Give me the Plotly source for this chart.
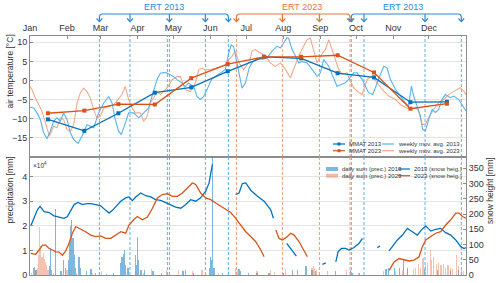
import plotly.graph_objects as go

# ---------------- data ----------------
months = ['Jan', 'Feb', 'Mar', 'Apr', 'May', 'Jun', 'Jul', 'Aug', 'Sep', 'Oct', 'Nov', 'Dec']
month_start_day = [0, 31, 59, 90, 120, 151, 181, 212, 243, 273, 304, 334]

mmat_day = [15, 45.5, 74, 104.5, 135, 165.5, 196, 227, 257.5, 288, 318.5, 349]
mmat_2013 = [-10.2, -13.2, -8.6, -3.2, -1.8, 2.4, 6.2, 5.8, 1.9, 0.8, -5.7, -5.6]
mmat_2023 = [-8.6, -7.9, -6.2, -6.3, 0.6, 4.3, 6.2, 6.2, 6.6, 2.1, -7.4, -6.1]

# weekly moving average air temperature (day of year, degC)
wma_2013 = [(0, -7.0), (3.1, -7.2), (5.9, -8.5), (8.7, -10.3), (11.4, -13.7), (14.2, -15.3), (17.0, -13.3),
            (19.8, -10.7), (22.6, -9.8), (25.4, -10.7), (28.2, -8.5), (31.0, -10.3), (33.8, -13.7), (36.6, -15.5),
            (40.2, -16.5), (43.5, -14.6), (47.7, -11.6), (53.3, -12.4), (57.5, -8.5), (61.7, -5.9), (65.9, -4.2),
            (68.7, -5.9), (71.4, -10.3), (74.2, -13.3), (76.5, -14.2), (79.8, -11.1), (82.6, -8.5), (86.8, -8.5),
            (91.0, -9.8), (95.2, -8.5), (99.3, -7.2), (102.1, -4.2), (104.4, -1.6), (106.3, 0.2), (109.1, 1.9),
            (113.3, 2.1), (117.5, 1.5), (120.3, 1.0), (123.1, 0.2), (127.2, -0.7), (130.0, -1.6), (132.8, -0.7),
            (137.0, -1.6), (139.8, -4.2), (142.6, -5.0), (145.4, -4.2), (148.2, -2.4), (151.8, 0.2), (155.1, 1.0),
            (159.3, 1.9), (163.5, 2.8), (166.3, 7.1), (168.5, 9.3), (170.5, 8.9), (173.3, 4.5), (177.5, -2.0),
            (180.3, -0.7), (183.5, 3.3), (185.9, 4.6), (190.1, 5.9), (194.3, 5.5), (198.4, 5.9), (202.6, 7.7),
            (206.8, 9.0), (209.6, 8.5), (212.4, 9.8), (215.2, 11.2), (216.6, 11.0), (219.4, 8.1), (222.2, 6.4),
            (225.0, 4.6), (227.7, 5.0), (231.9, 4.6), (236.1, 2.9), (240.3, 1.1), (243.1, 2.0), (245.9, 5.5),
            (250.1, 3.7), (254.3, 0.3), (257.0, -1.5), (261.2, -1.0), (264.0, -0.6), (266.8, 0.3), (271.0, 2.0),
            (273.8, 2.0), (278.0, 0.3), (280.8, -1.5), (283.5, -3.2), (286.9, -3.7), (289.7, -1.5), (292.5, 1.1),
            (296.1, 3.7), (298.9, 3.3), (301.7, 0.3), (305.9, -2.3), (310.1, -4.1), (314.2, -5.8), (317.0, -6.7),
            (319.3, -1.5), (321.2, -4.1), (324.0, -6.7), (326.8, -9.3), (328.7, -12.8), (331.0, -13.2),
            (333.8, -10.2), (336.6, -7.6), (339.3, -8.4), (342.1, -7.6), (344.9, -5.0), (347.7, -3.7),
            (351.9, -4.5), (354.7, -4.1), (358.9, -5.0), (363.1, -7.1), (365, -8.0)]

wma_2023 = [(0, -1.6), (1.7, -2.4), (4.5, -4.6), (7.3, -6.4), (10.1, -8.1), (12.9, -11.1), (16.2, -14.6),
            (19.8, -12.0), (22.6, -12.4), (25.4, -9.8), (28.2, -10.3), (31.0, -12.9), (33.8, -13.3), (36.6, -11.6),
            (39.4, -5.9), (42.1, -3.3), (44.9, -2.0), (47.7, -2.9), (50.5, -4.6), (53.3, -7.7), (56.1, -9.8),
            (58.9, -9.4), (61.7, -7.2), (65.9, -6.8), (70.0, -6.4), (73.7, -5.0), (77.0, -3.7), (79.8, -1.6),
            (82.6, -5.0), (85.4, -7.2), (88.2, -8.5), (92.4, -8.5), (95.2, -10.7), (98.0, -9.4), (100.7, -5.9),
            (103.5, -4.6), (106.3, -2.9), (109.1, -3.7), (111.9, -2.9), (115.5, -1.6), (118.9, 0.2), (123.1, 1.0),
            (125.9, 1.0), (127.8, -0.7), (130.0, -2.4), (134.2, -2.9), (138.4, -0.7), (141.2, 2.8), (144.0, 3.2),
            (146.8, 2.8), (151.0, 2.8), (155.1, 3.2), (159.3, 3.7), (163.5, 4.1), (166.3, 5.4), (169.1, 6.3),
            (171.9, 7.6), (175.2, 4.5), (178.9, 2.8), (181.7, 4.1), (184.0, 5.2), (185.9, 7.7), (188.7, 8.1),
            (192.9, 7.2), (197.1, 6.4), (201.2, 4.6), (205.4, 3.7), (209.6, 4.6), (213.8, 2.9), (218.0, 0.7),
            (220.8, 2.9), (225.0, 6.4), (229.1, 9.0), (231.9, 10.7), (234.7, 11.1), (237.5, 8.1), (240.3, 4.6),
            (243.1, 6.4), (247.3, 8.1), (250.1, 10.7), (252.9, 8.1), (255.6, 5.5), (258.4, 2.9), (261.2, 1.6),
            (265.4, 2.0), (268.2, -0.2), (271.0, -1.9), (273.8, -2.8), (278.0, -3.7), (282.2, 0.3), (286.3, 1.1),
            (290.5, -0.6), (294.7, -2.3), (300.3, -4.1), (305.9, -5.0), (310.1, -6.3), (314.2, -7.1),
            (318.4, -7.6), (322.6, -7.1), (325.4, -8.0), (328.2, -11.5), (331.0, -11.5), (333.8, -9.7),
            (338.0, -7.6), (342.1, -5.8), (346.3, -5.0), (350.5, -3.7), (355.1, -2.8), (360.3, -1.9),
            (363.1, -2.8), (365, -3.7)]

# snow height [mm] (None = data gap)
snow_2013 = [(0.6, 161), (3.4, 186), (6.2, 214), (8.4, 225), (11.8, 208), (16.0, 205), (20.1, 194), (24.3, 190),
             (28.5, 186), (31.3, 192), (34.1, 212), (36.9, 231), (40.2, 238), (43.9, 231), (47.5, 234), (50.8, 234),
             (55.0, 231), (59.2, 227), (63.4, 212), (66.2, 203), (69.0, 212), (71.8, 225), (76.0, 242), (80.1, 253),
             (82.9, 256), (85.7, 244), (88.5, 256), (92.7, 269), (96.9, 260), (101.1, 256), (105.2, 247),
             (109.4, 245), (113.6, 238), (117.8, 231), (122.0, 223), (126.2, 219), (130.4, 231), (134.5, 247),
             (138.7, 242), (142.9, 253), (147.1, 275), (149.9, 302), (152.7, 363), (160, None), (172.2, 264),
             (175.0, 269), (177.8, 300), (180.6, 302), (184.8, 278), (190.4, 258), (196.0, 242), (201.5, 214),
             (203.8, 186), (208, None), (214.9, 104), (218.3, 87), (223.0, 62), (230, None), (244.8, 35),
             (247.6, 40), (250, None), (256.0, 43), (257.9, 76), (260.7, 87), (264.3, 87), (267.1, 82),
             (271.3, 90), (275.5, 104), (278.3, 120), (285, None), (290.8, 90), (293.1, 95), (296, None),
             (300.6, 79), (303.4, 93), (307.6, 115), (311.8, 131), (315.9, 153), (320.1, 142), (324.3, 131),
             (327.7, 148), (331.3, 161), (335.5, 144), (339.7, 150), (343.8, 153), (348.0, 139), (352.2, 131),
             (356.4, 115), (360.6, 93), (363.4, 87), (365, 90)]

snow_2023 = [(0.6, 71), (4.8, 68), (7.6, 82), (10.4, 98), (13.2, 98), (16.0, 87), (18.7, 82), (21.5, 76),
             (24.3, 75), (27.1, 65), (29.9, 79), (32.7, 104), (35.5, 137), (38.3, 159), (42.5, 150), (46.6, 142),
             (50.8, 131), (55.0, 126), (59.2, 128), (63.4, 120), (67.6, 120), (71.8, 131), (76.0, 142), (80.1, 137),
             (82.9, 164), (87.1, 183), (89.9, 192), (94.1, 181), (98.3, 190), (102.5, 219), (106.6, 253),
             (110.8, 264), (115.0, 267), (119.2, 258), (123.4, 258), (127.6, 269), (131.7, 286), (135.9, 302),
             (138.7, 297), (142.9, 269), (147.1, 253), (151.3, 247), (155.5, 236), (159.7, 225), (163.8, 214),
             (168.0, 205), (172.2, 186), (176.4, 164), (180.6, 142), (184.8, 126), (189.0, 109), (193.2, 82),
             (196.0, 60), (200, None), (205.7, 148), (208.5, 120), (211.3, 115), (215.5, 126), (218.3, 137),
             (221.1, 131), (225.3, 109), (229.4, 82), (232.2, 60), (240, None), (300.6, 15), (304.8, 43),
             (309.0, 54), (313.2, 49), (317.3, 46), (321.5, 49), (325.7, 60), (328.5, 93), (331.3, 115),
             (335.5, 126), (339.7, 137), (343.8, 142), (348.0, 164), (352.2, 181), (356.4, 203), (359.2, 203),
             (362.0, 192), (365, 186)]

# daily precipitation sums (x10^4 mm)
prec_2013 = [(3, 0.3), (4, 0.34), (5, 0.2), (16, 0.38), (17, 1.1), (18, 0.2), (21.5, 2.7), (26, 0.15), (28, 0.6),
             (30, 0.3), (32, 0.6), (33, 1.3), (34, 2.0), (35, 2.23), (36, 1.5), (37, 0.8), (38, 0.3), (41, 0.72),
             (42, 0.3), (47, 0.15), (51, 0.25), (55, 0.1), (58, 0.12), (64, 0.05), (70, 0.08), (76, 0.5),
             (77, 0.73), (78, 0.87), (79, 1.0), (80, 0.4), (82, 0.3), (88, 0.8), (89, 0.4), (90, 1.55), (91, 0.6),
             (93, 0.2), (96, 0.2), (103, 0.15), (110, 0.1), (128, 0.15), (130, 0.2), (137, 0.1), (150, 0.3),
             (151, 0.73), (152, 0.6), (153, 5.2), (154, 0.3), (161, 0.1), (175, 0.25), (176, 0.15), (183, 0.1),
             (190, 0.1), (200, 0.1), (212, 0.1), (220, 0.2), (224, 0.2), (231, 0.38), (236, 0.2), (239, 0.15),
             (256, 0.15), (268, 0.2), (270, 0.1), (276, 0.1), (298, 0.25), (300, 0.3), (305, 0.3), (309, 0.3),
             (313, 0.62), (316, 0.3), (330, 0.25), (341, 0.2), (352, 0.15), (359, 0.2)]

prec_2023 = [(1, 0.1), (5, 0.2), (6, 0.3), (7, 0.8), (8, 1.96), (9, 1.2), (10, 0.73), (11, 0.9), (12, 0.67),
             (13, 0.53), (14, 0.4), (15, 0.2), (20, 0.1), (31, 0.2), (33, 0.3), (35, 0.25), (39, 0.1), (52, 0.1),
             (60, 0.15), (88, 0.15), (95, 0.1), (102, 0.25), (114, 0.2), (124, 0.2), (136, 0.15), (144, 0.2),
             (158, 0.1), (166, 0.15), (172, 0.3), (174, 0.2), (190, 0.15), (201, 0.2), (205, 0.12), (214, 0.25),
             (220, 0.1), (236, 0.3), (237, 0.35), (238, 0.3), (240, 0.2), (249, 0.15), (265, 0.2), (275, 0.1),
             (296, 0.15), (306, 0.15), (312, 0.2), (316, 0.25), (321, 0.25), (323, 0.3), (325, 0.45), (327, 0.3),
             (329, 0.7), (331, 0.4), (333, 0.5), (335, 1.0), (336, 0.6), (338, 0.75), (340, 0.45), (342, 0.5),
             (344, 0.4), (346, 0.45), (348, 0.3), (350, 0.4), (352, 0.3), (354, 0.25), (357, 0.8), (359, 0.35),
             (361, 0.2), (363, 0.15)]

# ERT survey dates (day of year)
ert_2013_a = [58.1, 83.7, 116.7, 146.8, 166.1]
ert_2013_a_extra = [115.0]
ert_2023 = [172.8, 211.3, 242.3, 267.9]
ert_2013_b = [269.0, 279.6, 330.7, 361.1]

# ---------------- style ----------------
FONT = 'Liberation Sans, Arial, sans-serif'
BLUE = '#0072BD'
ORANGE = '#D95319'
LBLUE = '#5AB2EE'
LORANGE = '#F2A98A'
ERT_BLUE = '#2D8AD6'
ERT_ORANGE = '#E8743F'
DASH_BLUE = '#5EB0EC'
DASH_ORANGE = '#F39C78'
TXT = '#333333'
AX = '#8C8C8C'

W, H = 500, 283
ML, MR, MT, MB = 30, 34, 36, 8
PW, PH = W - ML - MR, H - MT - MB
SPLIT = (H - MB - 157) / PH
DAYS = 365.0
TOP_RANGE = [-20.06, 11.65]
PREC_RANGE = [0, 4.8]
SNOW_RANGE = [0, 387]


def px(x):
    return (x - ML) / PW


def py(y):
    return (H - MB - y) / PH


def dx(d):
    return d / DAYS


def unzip(pairs):
    return [p[0] for p in pairs], [p[1] for p in pairs]


fig = go.Figure()

# dashed ERT date lines (drawn first so they sit beneath the data)
for days, col in [(ert_2013_a + ert_2013_a_extra + ert_2013_b, DASH_BLUE), (ert_2023, DASH_ORANGE)]:
    for xa, ya, rng in [('x', 'y', TOP_RANGE), ('x2', 'y2', PREC_RANGE)]:
        xs, ys = [], []
        for d in days:
            xs += [d, d, None]
            ys += [rng[0], rng[1], None]
        fig.add_trace(go.Scatter(x=xs, y=ys, mode='lines', xaxis=xa, yaxis=ya, hoverinfo='skip',
                                 line=dict(color=col, width=1, dash='3px,2px'), showlegend=False))

# bars (bottom panel, left axis)
for data, col in [(prec_2013, 'rgba(0,114,189,0.5)'), (prec_2023, 'rgba(230,120,80,0.45)')]:
    d, v = unzip(data)
    fig.add_trace(go.Bar(x=d, y=v, width=1.0, xaxis='x2', yaxis='y2',
                         marker=dict(color=col, line_width=0), showlegend=False))

# snow height lines (right axis)
for data, col in [(snow_2013, BLUE), (snow_2023, ORANGE)]:
    d, v = unzip(data)
    fig.add_trace(go.Scatter(x=d, y=v, mode='lines', xaxis='x2', yaxis='y3', connectgaps=False,
                             line=dict(color=col, width=1.3), showlegend=False))

# weekly moving averages
for data, col in [(wma_2023, LORANGE), (wma_2013, LBLUE)]:
    d, v = unzip(data)
    fig.add_trace(go.Scatter(x=d, y=v, mode='lines', xaxis='x', yaxis='y',
                             line=dict(color=col, width=1.1), showlegend=False))

# MMAT
for vals, col in [(mmat_2013, BLUE), (mmat_2023, ORANGE)]:
    fig.add_trace(go.Scatter(x=mmat_day, y=vals, mode='lines+markers', xaxis='x', yaxis='y',
                             line=dict(color=col, width=1.3),
                             marker=dict(symbol='square', size=4, color=col),
                             showlegend=False))

shapes = []
# ERT brackets with arrows
Y_LINE, Y_CORNER, Y_BASE, Y_TIP = py(14), py(17.5), py(18.5), py(21.7)
R = 2.6  # days
HW = 2.4  # half width of arrow head in days
annotations = []
for days, col, label, lab_day in [(ert_2013_a, ERT_BLUE, 'ERT 2013', 112.5),
                                  (ert_2023, ERT_ORANGE, 'ERT 2023', 228.0),
                                  (ert_2013_b, ERT_BLUE, 'ERT 2013', 312.0)]:
    x0, x1 = days[0], days[-1]
    path = (f"M {dx(x0)},{Y_TIP} L {dx(x0)},{Y_CORNER} Q {dx(x0)},{Y_LINE} {dx(x0 + R)},{Y_LINE} "
            f"L {dx(x1 - R)},{Y_LINE} Q {dx(x1)},{Y_LINE} {dx(x1)},{Y_CORNER} L {dx(x1)},{Y_TIP}")
    shapes.append(dict(type='path', xref='paper', yref='paper', path=path, line=dict(color=col, width=1.2)))
    for d in days:
        if d not in (x0, x1):
            shapes.append(dict(type='path', xref='paper', yref='paper',
                               path=f"M {dx(d)},{Y_LINE} L {dx(d)},{Y_TIP}", line=dict(color=col, width=1.2)))
        shapes.append(dict(type='path', xref='paper', yref='paper',
                           path=f"M {dx(d - HW)},{Y_BASE} L {dx(d)},{Y_TIP} L {dx(d + HW)},{Y_BASE}",
                           line=dict(color=col, width=1.2)))
    annotations.append(dict(text=label, x=dx(lab_day), y=py(7.5), xref='paper', yref='paper',
                            showarrow=False, font=dict(family=FONT, size=9, color=col),
                            xanchor='center', yanchor='middle'))

# axis titles
annotations += [
    dict(text='air temperature [°C]', x=px(9.5), y=py(72), xref='paper', yref='paper', textangle=-90,
         showarrow=False, font=dict(family=FONT, size=8.5, color=TXT), xanchor='center', yanchor='middle'),
    dict(text='precipitation [mm]', x=px(9.5), y=py(190), xref='paper', yref='paper', textangle=-90,
         showarrow=False, font=dict(family=FONT, size=8.5, color=TXT), xanchor='center', yanchor='middle'),
    dict(text='snow height [mm]', x=px(490), y=py(190), xref='paper', yref='paper', textangle=-90,
         showarrow=False, font=dict(family=FONT, size=8.5, color=TXT), xanchor='center', yanchor='middle'),
    dict(text='×10<sup>4</sup>', x=px(31), y=py(165), xref='paper', yref='paper',
         showarrow=False, font=dict(family=FONT, size=6.5, color=TXT), xanchor='left', yanchor='middle'),
]

# manual legends
LEG_FONT = dict(family=FONT, size=6, color=TXT)


def leg_line(x0, x1, y, col, width=1.2, marker=False):
    shapes.append(dict(type='line', xref='paper', yref='paper', x0=px(x0), x1=px(x1), y0=py(y), y1=py(y),
                       line=dict(color=col, width=width)))
    if marker:
        xc = (x0 + x1) / 2
        shapes.append(dict(type='rect', xref='paper', yref='paper', x0=px(xc - 1.5), x1=px(xc + 1.5),
                           y0=py(y - 1.5), y1=py(y + 1.5), line=dict(width=0), fillcolor=col))


def leg_text(x, y, text):
    annotations.append(dict(text=text, x=px(x), y=py(y), xref='paper', yref='paper', showarrow=False,
                            font=LEG_FONT, xanchor='left', yanchor='middle'))


# top legend
leg_line(333, 345, 144, BLUE, marker=True)
leg_text(347, 144, 'MMAT 2013')
leg_line(382, 394, 144, LBLUE)
leg_text(396, 144, 'weekly mov. avg. 2013')
leg_line(333, 345, 150.7, ORANGE, marker=True)
leg_text(347, 150.7, 'MMAT 2023')
leg_line(382, 394, 150.7, LORANGE)
leg_text(396, 150.7, 'weekly mov. avg. 2023')

# bottom legend
for y, col, lcol, t1, t2 in [(169, 'rgba(0,114,189,0.5)', BLUE, 'daily sum (prec.) 2013', '2013 (snow heig.)'),
                             (175.7, 'rgba(230,120,80,0.5)', ORANGE, 'daily sum (prec.) 2023', '2023 (snow heig.)')]:
    shapes.append(dict(type='rect', xref='paper', yref='paper', x0=px(326), x1=px(338), y0=py(y - 2),
                       y1=py(y + 2), line=dict(width=0), fillcolor=col))
    leg_text(340, y, t1)
    leg_line(398, 410, y, lcol)
    leg_text(412, y, t2)

tickfont = dict(family=FONT, size=9, color=TXT)
fig.update_layout(
    width=W, height=H,
    margin=dict(l=ML, r=MR, t=MT, b=MB, pad=0, autoexpand=False),
    paper_bgcolor='white', plot_bgcolor='white',
    barmode='overlay', bargap=0,
    showlegend=False,
    font=dict(family=FONT, color=TXT),
    xaxis=dict(domain=[0, 1], anchor='y', side='top', range=[0, DAYS], automargin=False,
               tickmode='array', tickvals=month_start_day, ticktext=months,
               ticks='inside', ticklen=3, tickcolor=AX, tickfont=tickfont,
               showline=True, linecolor=AX, linewidth=1, mirror=True, showgrid=False, zeroline=False),
    yaxis=dict(domain=[SPLIT, 1], anchor='x', range=TOP_RANGE, automargin=False,
               tickmode='array', tickvals=[-15, -10, -5, 0, 5, 10],
               ticks='inside', ticklen=3, tickcolor=AX, tickfont=tickfont,
               showline=True, linecolor=AX, linewidth=1, mirror=True,
               showgrid=True, gridcolor='#E3E3E3', gridwidth=1, zeroline=False),
    xaxis2=dict(domain=[0, 1], anchor='y2', matches='x', range=[0, DAYS], showticklabels=False,
                automargin=False,
                ticks='', showline=True, linecolor=AX, linewidth=1, mirror=True,
                showgrid=False, zeroline=False),
    yaxis2=dict(domain=[0, SPLIT], anchor='x2', range=PREC_RANGE, automargin=False,
                tickmode='array', tickvals=[0, 1, 2, 3, 4],
                ticks='inside', ticklen=3, tickcolor=AX, tickfont=tickfont,
                showline=True, linecolor=AX, linewidth=1,
                showgrid=True, gridcolor='#E3E3E3', gridwidth=1, zeroline=False),
    yaxis3=dict(overlaying='y2', anchor='x2', side='right', range=SNOW_RANGE, automargin=False,
                tickmode='array', tickvals=[0, 50, 100, 150, 200, 250, 300, 350],
                ticks='inside', ticklen=3, tickcolor=AX, tickfont=tickfont,
                showline=True, linecolor=AX, linewidth=1, showgrid=False, zeroline=False),
    shapes=shapes,
    annotations=annotations,
)

fig.write_html('out.html', config={'displayModeBar': False},
               post_script="document.body.style.margin='0px';document.body.style.padding='0px';"
                           "document.documentElement.style.overflow='hidden';")
